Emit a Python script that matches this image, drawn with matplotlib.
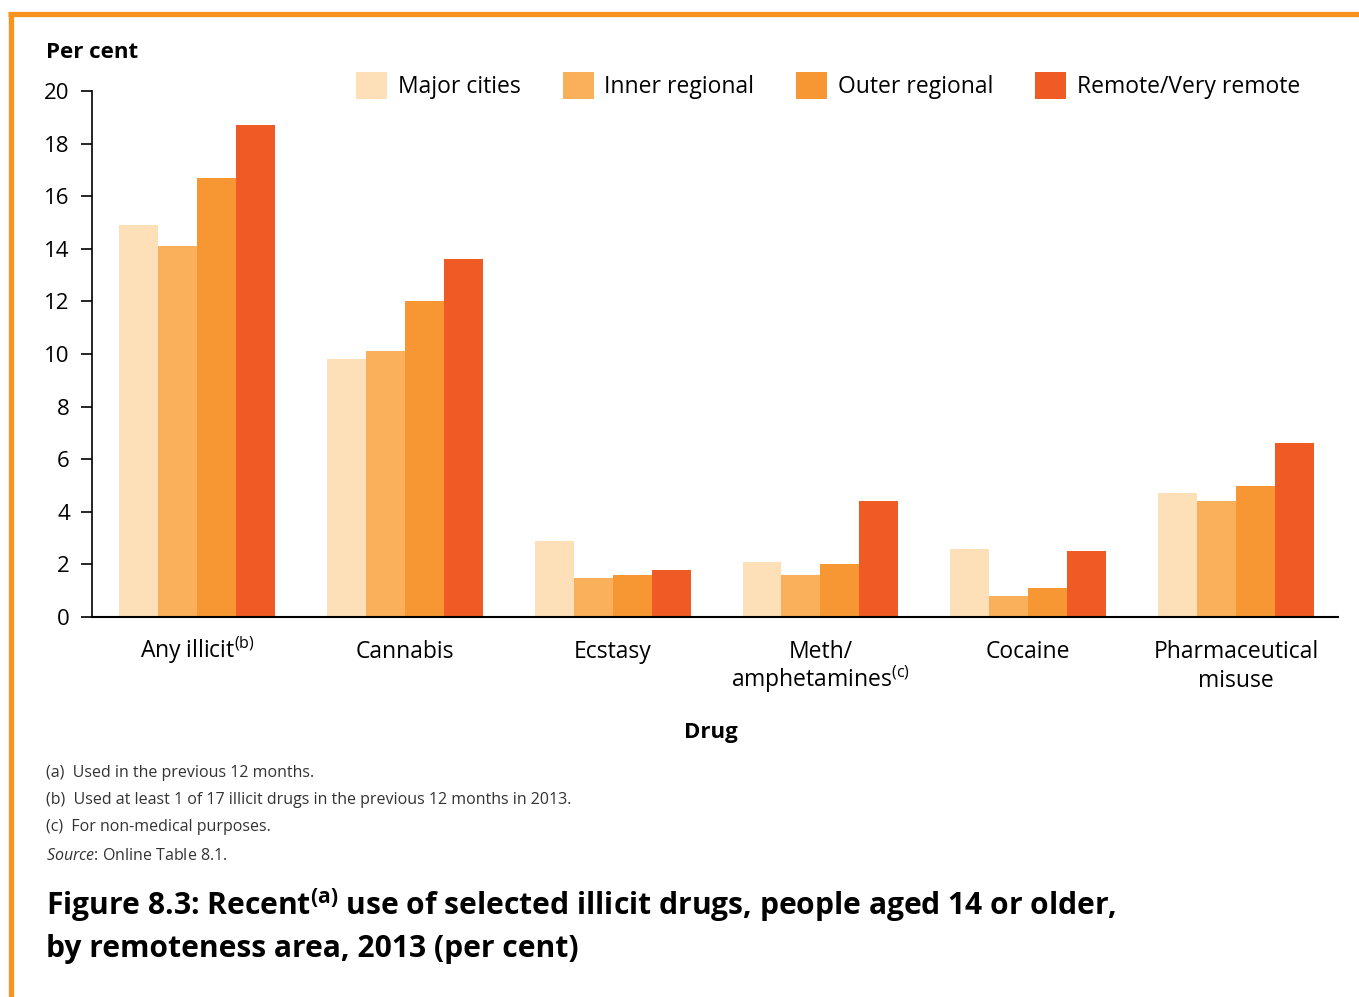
import matplotlib
matplotlib.use("Agg")
import matplotlib.pyplot as plt
import numpy as np
from matplotlib.lines import Line2D

plt.rcParams['font.family'] = ['Open Sans', 'DejaVu Sans']
plt.rcParams['mathtext.fontset'] = 'custom'
plt.rcParams['mathtext.rm'] = 'Open Sans'
plt.rcParams['mathtext.it'] = 'Open Sans:italic'
plt.rcParams['mathtext.bf'] = 'Open Sans:bold'

drugs = ["Any illicit$^{\\mathrm{(b)}}$", "Cannabis", "Ecstasy",
         "Meth/\namphetamines$^{\\mathrm{(c)}}$", "Cocaine", "Pharmaceutical\nmisuse"]
series = ["Major cities", "Inner regional", "Outer regional", "Remote/Very remote"]
major = [14.9, 9.8, 2.9, 2.1, 2.6, 4.7]
inner = [14.1, 10.1, 1.5, 1.6, 0.8, 4.4]
outer = [16.7, 12.0, 1.6, 2.0, 1.1, 5.0]
remote = [18.7, 13.6, 1.8, 4.4, 2.5, 6.6]
colors = ["#FDE0B8", "#FAAF5A", "#F79733", "#F05A24"]

fig = plt.figure(figsize=(13.59, 9.97), dpi=100)
ax = fig.add_axes([0.0677, 0.3811, 0.9168, 0.5276])

x = np.arange(len(drugs))
w = 0.1875
for i, (vals, name) in enumerate(zip([major, inner, outer, remote], series)):
    ax.bar(x + (i - 1.5) * w, vals, w, color=colors[i], label=name)

ax.set_xlim(-0.505, 5.49)
ax.set_ylim(0, 20)
ax.set_yticks(range(0, 21, 2))
ax.set_xticks(x)
ax.set_xticklabels([""] * len(drugs))
# category labels, line by line so the baselines line up
for xi, lab in zip(x, drugs):
    for j, line in enumerate(lab.split("\n")):
        ax.text(xi, -0.078 - 0.055 * j, line, transform=ax.get_xaxis_transform(),
                ha='center', va='baseline', fontsize=16.5)
ax.tick_params(axis='x', length=0)
ax.tick_params(axis='y', direction='out', length=8, width=1.2, labelsize=16, pad=8)
for s in ['top', 'right']:
    ax.spines[s].set_visible(False)
ax.spines['left'].set_linewidth(1.2)
ax.spines['bottom'].set_linewidth(1.5)

fig.text(0.034, 1 - 53 / 997, "Per cent", fontsize=16, fontweight='bold', va='center')
fig.text(0.523, 1 - 732 / 997, "Drug", fontsize=16, fontweight='bold', ha='center', va='center')

leg = fig.legend(loc='center left', bbox_to_anchor=(0.247, 0.914), ncol=4, frameon=False,
                 fontsize=16.5, handlelength=1.35, handleheight=1.45, handletextpad=0.45,
                 columnspacing=1.85)

notes = ["(a)  Used in the previous 12 months.",
         "(b)  Used at least 1 of 17 illicit drugs in the previous 12 months in 2013.",
         "(c)  For non-medical purposes."]
for k, t in enumerate(notes):
    fig.text(0.034, 1 - (773 + 27 * k) / 997, t, fontsize=11.5, color='#333333', va='center')
fig.text(0.034, 1 - 856 / 997, "$\\it{Source}$: Online Table 8.1.", fontsize=11.5,
         color='#333333', va='center')

fig.text(0.034, 1 - 905 / 997,
         "Figure 8.3: Recent$^{\\mathbf{(a)}}$ use of selected illicit drugs, people aged 14 or older,",
         fontsize=21.6, fontweight='bold', va='center')
fig.text(0.034, 1 - 949 / 997, "by remoteness area, 2013 (per cent)",
         fontsize=21.6, fontweight='bold', va='center')

border = "#F7931E"
fig.add_artist(Line2D([8 / 1359, 1], [1 - 14 / 997] * 2, transform=fig.transFigure,
                      color=border, lw=3.8, solid_capstyle='butt'))
fig.add_artist(Line2D([10.5 / 1359] * 2, [0, 1 - 12 / 997], transform=fig.transFigure,
                      color=border, lw=3.8, solid_capstyle='butt'))

fig.savefig("out.png", dpi=100)
